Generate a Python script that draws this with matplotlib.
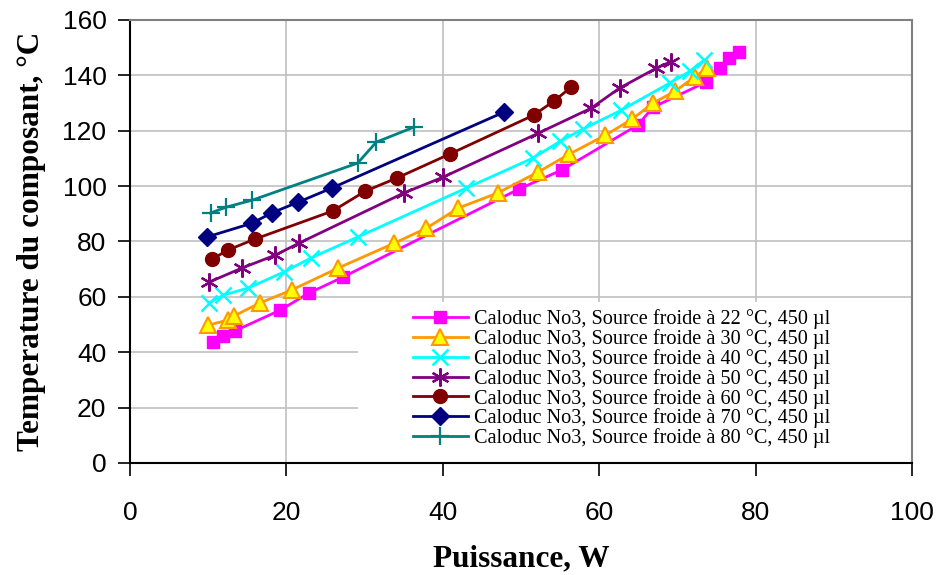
import matplotlib
matplotlib.use("Agg")
import matplotlib.pyplot as plt
from matplotlib.patches import Rectangle

# ── Données ───────────────────────────────────────────────────────────────────
p22 = [10.6, 11.9, 13.4, 19.2, 22.9, 27.2, 49.7, 55.2, 64.9, 66.9, 73.6, 75.4, 76.6, 77.9]
t22 = [43.7, 45.8, 47.7, 55.2, 61.4, 67.1, 98.9, 105.8, 122.0, 128.5, 137.5, 142.6, 146.2, 148.4]

p30 = [10.0, 12.5, 13.3, 16.6, 20.7, 26.6, 33.8, 37.9, 42.0, 47.0, 52.2, 56.2, 60.8, 64.2, 66.9, 69.7, 72.2, 73.8]
t30 = [49.8, 51.6, 53.1, 57.8, 62.5, 70.4, 79.4, 84.8, 92.1, 97.5, 105.1, 111.6, 118.4, 124.2, 130.0, 134.3, 139.4, 142.6]

p40 = [10.1, 11.9, 15.1, 19.7, 23.1, 29.1, 43.0, 51.5, 55.0, 57.9, 62.8, 69.0, 71.6, 73.4]
t40 = [57.8, 60.6, 63.2, 69.0, 74.0, 81.6, 99.3, 110.1, 116.2, 120.6, 127.4, 137.2, 141.5, 145.5]

p50 = [10.1, 14.3, 18.6, 21.6, 35.0, 40.0, 52.2, 59.0, 62.6, 67.3, 69.2]
t50 = [65.3, 70.4, 75.1, 79.4, 97.5, 103.2, 119.1, 128.2, 135.4, 142.6, 145.0]

p60 = [10.5, 12.5, 16.0, 25.9, 30.1, 34.1, 40.9, 51.6, 54.2, 56.4]
t60 = [73.6, 76.9, 80.9, 91.0, 98.2, 102.9, 111.6, 125.6, 130.7, 135.7]

p70 = [9.8, 15.6, 18.1, 21.5, 25.8, 47.8]
t70 = [81.6, 86.6, 90.3, 94.2, 99.3, 126.7]

p80 = [10.3, 12.3, 15.6, 29.1, 31.5, 36.3]
t80 = [90.3, 92.4, 94.9, 108.3, 115.9, 121.3]

sources = [22, 30, 40, 50, 60, 70, 80]
labels = [f"Caloduc No3, Source froide à {s} °C, 450 µl" for s in sources]

# ── Styles ────────────────────────────────────────────────────────────────────
styles = [
    dict(color="#FF00FF", marker="s", ms=9, mfc="#FF00FF", mec="#FF00FF"),
    dict(color="#FF9900", marker="^", ms=11, mfc="#FFFF00", mec="#FF9900", mew=1.5),
    dict(color="#00FFFF", marker="x", ms=11, mew=1.8),
    dict(color="#800080", marker=(6, 2, 0), ms=13, mew=1.6),
    dict(color="#800000", marker="o", ms=10),
    dict(color="#000080", marker="D", ms=9),
    dict(color="#008080", marker="+", ms=13, mew=1.6),
]
series = [(p22, t22), (p30, t30), (p40, t40), (p50, t50),
          (p60, t60), (p70, t70), (p80, t80)]

fig = plt.figure(figsize=(9.39, 5.75), dpi=100)
ax = fig.add_axes([130/939, 1 - 463/575, 782/939, 443/575])

ax.set_axisbelow(True)
ax.grid(True, color="#c0c0c0", linewidth=1.2)

# fond blanc de la légende (masque la grille)
ax.add_patch(Rectangle(((358-130)/782, 0), 1 - (358-130)/782, (463-302)/443,
                       transform=ax.transAxes, facecolor="white",
                       edgecolor="none", zorder=1))

for (x, y), st, lab in zip(series, styles, labels):
    ax.plot(x, y, linewidth=2, label=lab, zorder=3, **st)

ax.set_xlim(0, 100)
ax.set_ylim(0, 160)
ax.set_xticks(range(0, 101, 20))
ax.set_yticks(range(0, 161, 20))
ax.tick_params(direction="out", length=9, width=1.2, labelsize=19, pad=8)
ax.tick_params(axis="x", pad=18)
for lbl in ax.get_xticklabels() + ax.get_yticklabels():
    lbl.set_family("Liberation Sans")

for s in ["left", "bottom"]:
    ax.spines[s].set_color("black")
    ax.spines[s].set_linewidth(1.5)
for s in ["top", "right"]:
    ax.spines[s].set_color("#808080")
    ax.spines[s].set_linewidth(1.5)

ax.set_xlabel("Puissance, W", family="Liberation Serif", fontweight="bold",
              fontsize=22.5, labelpad=14)
ax.set_ylabel("Temperature du composant, °C", family="Liberation Serif",
              fontweight="bold", fontsize=22.5, labelpad=12)

leg = ax.legend(loc="upper left", bbox_to_anchor=((413-130)/782, (463-309)/443),
                frameon=False, prop=dict(family="Liberation Serif", size=14.6),
                handlelength=2.7, handletextpad=0.3, labelspacing=0.0,
                borderaxespad=0, borderpad=0)
leg.set_zorder(5)

fig.savefig("out.png", dpi=100)
